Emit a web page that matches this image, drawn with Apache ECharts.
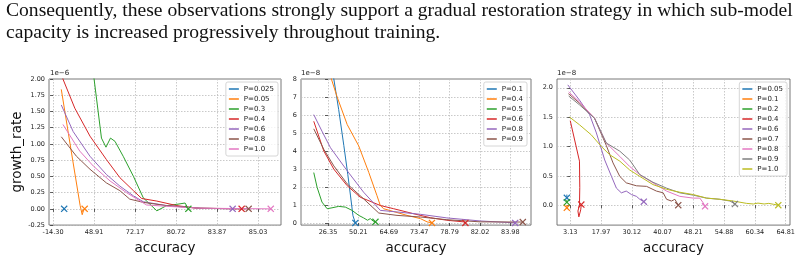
<!DOCTYPE html>
<html>
<head>
<meta charset="utf-8">
<script src="https://cdn.jsdelivr.net/npm/echarts@6/dist/echarts.min.js"></script>
<style>
  html, body { margin: 0; padding: 0; background: #fff; }
  #chart { width: 804px; height: 260px; }
</style>
</head>
<body>
<div id="chart"></div>
<script>
// tick labels (x positions are given in "tick slots": 0 = first label, 1 = second ...)
const xTicks1 = ['-14.30', '48.91', '72.17', '80.72', '83.87', '85.03']
const xTicks2 = ['26.35', '50.21', '64.69', '73.47', '78.79', '82.02', '83.98']
const xTicks3 = ['3.13', '17.97', '30.12', '40.07', '48.21', '54.88', '60.34', '64.81']
const yTicks1 = [-0.25, 0, 0.25, 0.5, 0.75, 1.0, 1.25, 1.5, 1.75, 2.0]
const yTicks2 = [0, 1, 2, 3, 4, 5, 6, 7, 8]
const yTicks3 = [0, 0.5, 1.0, 1.5, 2.0]

// panel 1 (x 1e-6)
const names1 = ['P=0.025', 'P=0.05', 'P=0.3', 'P=0.4', 'P=0.6', 'P=0.8', 'P=1.0']
const p1_0025 = [[0.25, 0.02], [0.27, 0]]
const p1_005 = [[0.20, 1.84], [0.45, 0.86], [0.66, 0.05], [0.71, -0.09], [0.74, -0.03], [0.77, 0]]
const p1_03 = [[0.9, 2.6], [1.0, 2.0], [1.18, 1.09], [1.29, 0.95], [1.40, 1.09], [1.51, 1.04], [1.71, 0.81], [1.96, 0.5], [2.20, 0.17], [2.53, -0.03], [2.77, 0.05], [3.02, 0.07], [3.22, 0.09], [3.30, 0]]
const p1_04 = [[0.22, 2.1], [0.24, 2.0], [0.53, 1.55], [0.90, 1.12], [1.30, 0.76], [1.63, 0.48], [1.96, 0.28], [2.16, 0.16], [2.53, 0.12], [3.02, 0.05], [3.5, 0.01], [4.60, 0]]
const p1_06 = [[0.20, 1.60], [0.49, 1.19], [0.90, 0.81], [1.30, 0.53], [1.63, 0.35], [1.96, 0.20], [2.20, 0.11], [2.77, 0.05], [3.59, 0.01], [4.38, 0]]
const p1_08 = [[0.20, 1.11], [0.57, 0.81], [0.90, 0.61], [1.30, 0.40], [1.63, 0.28], [1.87, 0.15], [2.20, 0.10], [2.77, 0.05], [3.59, 0.01], [4.77, 0]]
const p1_10 = [[0.24, 1.30], [0.65, 0.89], [0.98, 0.66], [1.39, 0.43], [1.79, 0.25], [2.28, 0.06], [2.77, 0.04], [3.59, 0.01], [5.31, 0]]

// panel 2 (x 1e-8)
const names2 = ['P=0.1', 'P=0.4', 'P=0.5', 'P=0.6', 'P=0.8', 'P=0.9']
const p2_01 = [[0.15, 8.8], [0.19, 8.0], [0.35, 6.3], [0.52, 4.3], [0.65, 2.7], [0.74, 1.5], [0.82, 0.4], [0.90, 0]]
const p2_04 = [[0.05, 8.6], [0.11, 8.0], [0.30, 7.0], [0.63, 5.47], [1.01, 4.28], [1.34, 2.81], [1.61, 1.52], [1.72, 0.97], [1.83, 0.79], [2.60, 0.42], [3.04, 0.24], [3.26, 0.06], [3.42, 0]]
const p2_05 = [[-0.47, 2.8], [-0.36, 1.98], [-0.20, 1.16], [-0.03, 0.79], [0.13, 0.84], [0.35, 0.92], [0.57, 0.88], [0.79, 0.70], [1.01, 0.42], [1.17, 0.28], [1.30, 0.15], [1.39, 0.24], [1.48, 0.11], [1.56, 0.06]]
const p2_06 = [[-0.47, 5.65], [-0.14, 4.0], [0.19, 2.99], [0.63, 2.07], [1.06, 1.43], [1.72, 0.97], [2.16, 0.79], [2.82, 0.51], [3.37, 0.29], [3.91, 0.15], [4.46, 0.06], [4.52, 0]]
const p2_08 = [[-0.47, 6.02], [-0.20, 5.1], [0.08, 4.18], [0.63, 2.9], [1.17, 1.71], [1.72, 0.70], [2.27, 0.61], [3.04, 0.48], [3.91, 0.28], [5.01, 0.11], [5.99, 0.02], [6.16, 0]]
const p2_09 = [[-0.47, 5.23], [-0.14, 4.09], [0.19, 3.17], [0.63, 2.17], [1.17, 1.34], [1.67, 0.55], [2.27, 0.42], [3.04, 0.33], [3.91, 0.18], [5.01, 0.06], [6.41, 0.05]]

// panel 3 (x 1e-8)
const names3 = ['P=0.05', 'P=0.1', 'P=0.2', 'P=0.4', 'P=0.6', 'p=0.7', 'P=0.8', 'P=0.9', 'P=1.0']
const p3_005 = [[-0.11, 0.18], [-0.11, 0.125]]
const p3_01 = [[-0.11, 0.0], [-0.11, -0.045]]
const p3_02 = [[-0.11, 0.09], [-0.11, 0.05]]
const p3_04 = [[0.0, 1.44], [0.30, 0.75], [0.31, 0.30], [0.30, 0.0], [0.25, -0.10], [0.28, -0.2], [0.33, -0.23], [0.34, -0.08], [0.36, 0.01]]
const p3_06 = [[-0.08, 2.05], [0.30, 1.79], [0.63, 1.54], [0.85, 1.23], [1.12, 0.77], [1.34, 0.49], [1.50, 0.29], [1.66, 0.21], [1.82, 0.24], [1.99, 0.18], [2.15, 0.15], [2.26, 0.10], [2.39, 0.06]]
const p3_07 = [[-0.06, 1.90], [0.30, 1.74], [0.79, 1.48], [1.17, 1.02], [1.39, 0.72], [1.61, 0.49], [1.82, 0.38], [2.15, 0.33], [2.48, 0.32], [2.80, 0.24], [3.02, 0.21], [3.13, 0.10], [3.29, 0.07], [3.40, 0.10], [3.51, 0.0]]
const p3_08 = [[-0.05, 1.93], [0.30, 1.76], [0.79, 1.48], [1.17, 1.06], [1.61, 0.83], [1.93, 0.66], [2.26, 0.52], [2.69, 0.38], [3.13, 0.24], [3.56, 0.15], [4.0, 0.12], [4.21, 0.12], [4.32, 0.04], [4.38, -0.02]]
const p3_09 = [[-0.05, 1.86], [0.30, 1.71], [0.79, 1.48], [1.17, 1.06], [1.61, 0.92], [1.93, 0.77], [2.26, 0.52], [2.69, 0.39], [3.13, 0.29], [3.56, 0.21], [4.0, 0.17], [4.43, 0.12], [4.86, 0.10], [5.19, 0.07], [5.35, 0.02]]
const p3_10 = [[-0.02, 1.50], [0.30, 1.37], [0.68, 1.20], [1.01, 1.0], [1.28, 0.86], [1.61, 0.75], [1.93, 0.60], [2.26, 0.49], [2.69, 0.35], [3.13, 0.27], [3.56, 0.22], [4.0, 0.18], [4.43, 0.12], [4.86, 0.10], [5.30, 0.07], [5.73, 0.03], [5.95, 0.02], [6.1, 0.035], [6.3, 0.02], [6.45, 0.03], [6.6, 0.015], [6.76, 0.0]]

const tab10 = ['#1f77b4', '#ff7f0e', '#2ca02c', '#d62728', '#9467bd', '#8c564b', '#e377c2', '#7f7f7f', '#bcbd22']
const X_MARK = 'path://M0,1.2L1.2,0L5,3.8L8.8,0L10,1.2L6.2,5L10,8.8L8.8,10L5,6.2L1.2,10L0,8.8L3.8,5Z'
const FONT = 'DejaVu Sans'

// 每个面板的系列名后面加零宽字符，避免图例颜色串到别的面板
const uname = (n, i) => n + '\u200b'.repeat(i + 1)

function makeSeries(names, datas, idx) {
  return datas.map((d, k) => ({
    name: uname(names[k], idx),
    type: 'line',
    xAxisIndex: idx,
    yAxisIndex: idx,
    data: d,
    color: tab10[k],
    lineStyle: { width: 1 },
    symbol: X_MARK,
    symbolSize: (v, p) => (p.dataIndex === d.length - 1 ? 7 : 0),
    showAllSymbol: true,
    itemStyle: { color: tab10[k], borderWidth: 0 },
    emphasis: { disabled: true },
    clip: true
  }))
}

const series = [].concat(
  makeSeries(names1, [p1_0025, p1_005, p1_03, p1_04, p1_06, p1_08, p1_10], 0),
  makeSeries(names2, [p2_01, p2_04, p2_05, p2_06, p2_08, p2_09], 1),
  makeSeries(names3, [p3_005, p3_01, p3_02, p3_04, p3_06, p3_07, p3_08, p3_09, p3_10], 2)
)

const grids = [
  { left: 49, top: 79, width: 232, height: 147 },
  { left: 301, top: 79, width: 230, height: 147 },
  { left: 557, top: 79, width: 233, height: 147 }
].map(g => Object.assign(g, { show: true, borderColor: '#555', borderWidth: 0.8, backgroundColor: 'transparent' }))

const splitLine = { show: true, lineStyle: { color: '#bbb', type: [1.5, 1.5], width: 0.8 } }
const tickStyle = { length: 3, lineStyle: { color: '#333', width: 0.8 } }
const labStyle = { fontSize: 6.5, color: '#222', fontFamily: FONT }

function xAxis(idx, labels, min, max) {
  const vals = labels.map((_, i) => i)
  return {
    type: 'value', gridIndex: idx, min, max,
    name: 'accuracy', nameLocation: 'middle', nameGap: 11,
    nameTextStyle: { fontSize: 13.5, color: '#111', fontFamily: FONT },
    axisLine: { show: false },
    axisTick: Object.assign({ customValues: vals }, tickStyle),
    axisLabel: Object.assign({ customValues: vals, margin: 4, formatter: v => labels[Math.round(v)] }, labStyle),
    splitLine
  }
}

function yAxis(idx, ticks, min, max, fmt, name) {
  return {
    type: 'value', gridIndex: idx, min, max,
    name: name || '', nameLocation: 'middle', nameGap: 25,
    nameTextStyle: { fontSize: 13.5, color: '#111', fontFamily: FONT },
    axisLine: { show: false },
    axisTick: Object.assign({ customValues: ticks }, tickStyle),
    axisLabel: Object.assign({ customValues: ticks, margin: 4, formatter: fmt }, labStyle),
    splitLine
  }
}

function legend(names, idx, right) {
  return {
    orient: 'vertical', right, top: 82,
    data: names.map(n => uname(n, idx)),
    icon: 'rect', itemWidth: 10, itemHeight: 1.5, itemGap: 0,
    padding: [2, 4, 2, 3],
    selectedMode: false,
    formatter: n => n.replace(/\u200b/g, ''),
    textStyle: { fontSize: 7, lineHeight: 10, color: '#222', fontFamily: FONT },
    borderColor: '#ccc', borderWidth: 0.8, borderRadius: 2,
    backgroundColor: 'rgba(255,255,255,0.8)'
  }
}

const offsetText = (x, t) => ({
  type: 'text', left: x, top: 70,
  style: { text: t, fontSize: 7, fill: '#222', fontFamily: FONT }
})

const chart = echarts.init(document.getElementById('chart'), null, { renderer: 'canvas' })
chart.setOption({
  animation: false,
  backgroundColor: '#fff',
  grid: grids,
  xAxis: [
    xAxis(0, xTicks1, -0.1, 5.56),
    xAxis(1, xTicks2, -0.89, 6.68),
    xAxis(2, xTicks3, -0.43, 7.14)
  ],
  yAxis: [
    yAxis(0, yTicks1, -0.25, 2.0, v => v.toFixed(2), 'growth_rate'),
    yAxis(1, yTicks2, -0.12, 8, v => String(v)),
    yAxis(2, yTicks3, -0.34, 2.15, v => v.toFixed(1))
  ],
  legend: [legend(names1, 0, 526), legend(names2, 1, 277), legend(names3, 2, 17)],
  graphic: [
    {
      type: 'text', left: 6, top: 0,
      style: {
        text: 'Consequently, these observations strongly support a gradual restoration strategy in which sub-model\ncapacity is increased progressively throughout training.',
        fontSize: 19.6, lineHeight: 22, fill: '#111', fontFamily: 'Liberation Serif'
      }
    },
    offsetText(50, '1e\u22126'),
    offsetText(301, '1e\u22128'),
    offsetText(557, '1e\u22128')
  ],
  series
})
</script>
</body>
</html>
